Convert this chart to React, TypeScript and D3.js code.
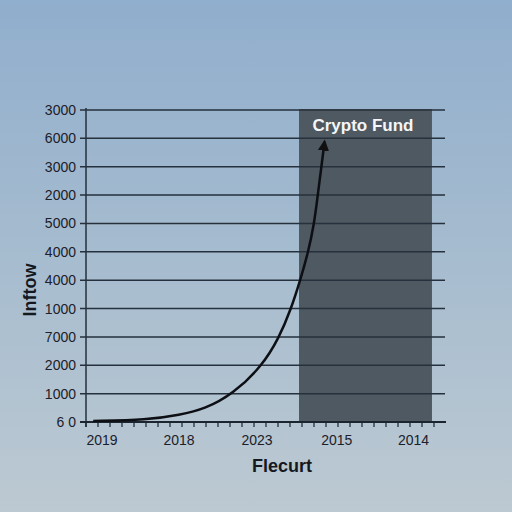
import React from "react";
import * as d3 from "d3";

const yTickLabels = ["6 0", "1000", "2000", "7000", "1000", "4000", "4000", "5000", "2000", "3000", "6000", "3000"];
const xLabels = ["2019", "2018", "2023", "2015", "2014"];
const xLabelPos = [1.33, 7.75, 14.25, 20.9, 27.3];
const curveX = [0.6, 5.08, 7.83, 9.92, 12.25, 14.67, 16.08, 17.08, 17.83, 18.5, 19.0, 19.3, 19.6, 19.88];
const curveY = [0.035, 0.07, 0.25, 0.46, 0.99, 1.97, 2.96, 3.98, 4.97, 5.96, 6.95, 7.95, 8.95, 9.88];
const fundRange = [17.75, 28.83];
const fundLabel = "Crypto Fund";
const xTitle = "Flecurt";
const yTitle = "Inftow";

export default function App() {
  const W = 512, H = 512;
  const x = d3.scaleLinear().domain([0, 30]).range([86, 446]);
  const y = d3.scaleLinear().domain([0, 11]).range([422, 110]);
  const pts: [number, number][] = curveX.map((v, i) => [x(v), y(curveY[i])]);
  const line = d3.line().curve(d3.curveBasis)(pts) || "";
  const ticks = d3.range(0, 30);
  const font = "Liberation Sans, Arial, sans-serif";
  return (
    <svg width={W} height={H} style={{ position: "fixed", left: 0, top: 0 }}>
      <defs>
        <linearGradient id="bg" x1="0" y1="0" x2="0" y2="1">
          <stop offset="0" stopColor="#90aecd" />
          <stop offset="0.5" stopColor="#a6bccf" />
          <stop offset="1" stopColor="#bcc9d2" />
        </linearGradient>
        <marker id="arr" viewBox="0 0 10 10" refX="8" refY="5" markerWidth="4.5" markerHeight="4.5" orient="auto">
          <path d="M0,0 L10,5 L0,10 z" fill="#111" />
        </marker>
      </defs>
      <rect x={0} y={0} width={W} height={H} fill="url(#bg)" />
      <rect x={x(fundRange[0])} y={y(11) - 1} width={x(fundRange[1]) - x(fundRange[0])} height={y(0) - y(11) + 1} fill="#4f5961" />
      {yTickLabels.map((t, i) => (
        <g key={i}>
          <line x1={80} x2={x(30) - 1} y1={y(i)} y2={y(i)} stroke="#25313c" strokeWidth={1.5} />
          <text x={76} y={y(i) + 5} textAnchor="end" fontFamily={font} fontSize={14} fill="#1b202a">{t}</text>
        </g>
      ))}
      <line x1={86} x2={86} y1={y(11) - 2} y2={y(0) + 5} stroke="#25313c" strokeWidth={1.5} />
      <line x1={80} x2={446} y1={y(0)} y2={y(0)} stroke="#1b2530" strokeWidth={2} />
      {ticks.map((t) => (
        <line key={t} x1={x(t)} x2={x(t)} y1={y(0)} y2={y(0) + 5} stroke="#1b2530" strokeWidth={1.2} />
      ))}
      {xLabels.map((l, i) => (
        <text key={l + i} x={x(xLabelPos[i])} y={445} textAnchor="middle" fontFamily={font} fontSize={14} fill="#1b202a">{l}</text>
      ))}
      <path d={line} fill="none" stroke="#0d0f14" strokeWidth={2.5} markerEnd="url(#arr)" />
      <text x={363} y={131} textAnchor="middle" fontFamily={font} fontSize={17} fontWeight="bold" fill="#f4f6f8">{fundLabel}</text>
      <text x={282} y={472} textAnchor="middle" fontFamily={font} fontSize={18} fontWeight="bold" fill="#15181e">{xTitle}</text>
      <text transform="translate(36,290) rotate(-90)" textAnchor="middle" fontFamily={font} fontSize={18} fontWeight="bold" fill="#15181e">{yTitle}</text>
    </svg>
  );
}
